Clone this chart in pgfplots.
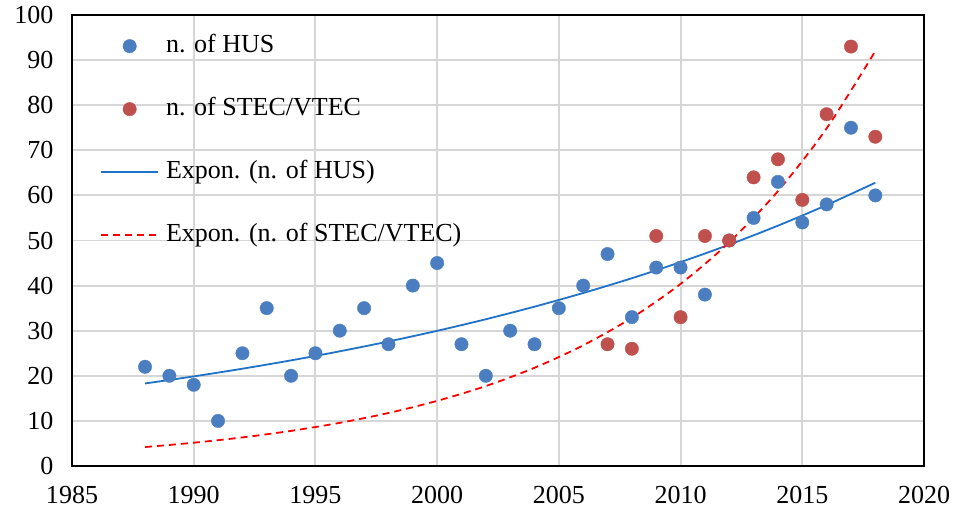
\documentclass[border=0pt]{standalone}
\usepackage{fontspec}
\setmainfont{Liberation Serif}
\usepackage{pgfplots}
\pgfplotsset{compat=1.18}
\definecolor{husblue}{HTML}{4A7EC0}
\definecolor{stecred}{HTML}{C0504D}
\definecolor{trendblue}{HTML}{1F72C8}
\definecolor{gridgray}{HTML}{D6D6D6}
\pgfplotsset{
  dotlegend/.style={legend image code/.code={\draw[##1] plot coordinates {(1cm,0cm)};}},
  linelegend/.style={legend image code/.code={\draw[##1] (0cm,0cm) -- (2cm,0cm);}},
}
\begin{document}
\begin{tikzpicture}
\begin{axis}[
  scale only axis,
  width=852pt, height=451pt,
  xmin=1985, xmax=2020, ymin=0, ymax=100,
  xtick={1985,1990,...,2020},
  ytick={0,10,...,100},
  grid=major,
  major grid style={gridgray, line width=1.9pt},
  axis line style={black, line width=1.6pt},
  major tick length=0pt,
  /pgf/number format/assume math mode=true,
  /pgf/number format/1000 sep={},
  tick label style={font=\fontsize{26}{30}\selectfont},
  xticklabel style={yshift=-17pt},
  yticklabel style={xshift=-15pt},
  legend style={draw=none, fill=none, at={(0.033,0.958)}, anchor=north west,
    font=\fontsize{26}{30}\selectfont, row sep=39pt, column sep=7pt, inner sep=0pt,
    nodes={inner sep=0pt, text height=18pt, text depth=6pt}},
  legend cell align=left,
]
\addplot[only marks, mark=*, mark size=6.7pt, husblue, mark options={draw=husblue, fill=husblue}, dotlegend]
coordinates {
(1988,22)(1989,20)(1990,18)(1991,10)(1992,25)(1993,35)(1994,20)(1995,25)
(1996,30)(1997,35)(1998,27)(1999,40)(2000,45)(2001,27)(2002,20)(2003,30)
(2004,27)(2005,35)(2006,40)(2007,47)(2008,33)(2009,44)(2010,44)(2011,38)
(2012,50)(2013,55)(2014,63)(2015,54)(2016,58)(2017,75)(2018,60)};
\addlegendentry{n. of HUS}
\addplot[only marks, mark=*, mark size=6.7pt, stecred, mark options={draw=stecred, fill=stecred}, dotlegend]
coordinates {
(2007,27)(2008,26)(2009,51)(2010,33)(2011,51)(2012,50)(2013,64)(2014,68)
(2015,59)(2016,78)(2017,93)(2018,73)};
\addlegendentry{n. of STEC/VTEC}
\addplot[trendblue, line width=1.8pt, smooth, no marks, linelegend]
coordinates {
(1988,18.3)(1990,19.87)(1992,21.57)(1994,23.42)(1996,25.43)(1998,27.61)
(2000,29.97)(2002,32.54)(2004,35.33)(2006,38.36)(2008,41.64)(2010,45.21)
(2012,49.08)(2014,53.29)(2016,57.86)(2018,62.8)};
\addlegendentry{Expon. (n. of HUS)}
\addplot[red, line width=1.8pt, dash pattern=on 7pt off 5pt, smooth, no marks, linelegend]
coordinates {
(1988,4.2)(1990,5.16)(1992,6.34)(1994,7.79)(1996,9.57)(1998,11.75)
(2000,14.44)(2002,17.73)(2004,21.78)(2006,26.76)(2008,32.87)(2010,40.38)
(2012,49.61)(2014,60.95)(2016,74.87)(2018,92.0)};
\addlegendentry{Expon. (n. of STEC/VTEC)}
\end{axis}
\pgfresetboundingbox
\path ([shift={(-72pt,-47pt)}]current axis.south west) rectangle ([shift={(31pt,15pt)}]current axis.north east);
\end{tikzpicture}
\end{document}
